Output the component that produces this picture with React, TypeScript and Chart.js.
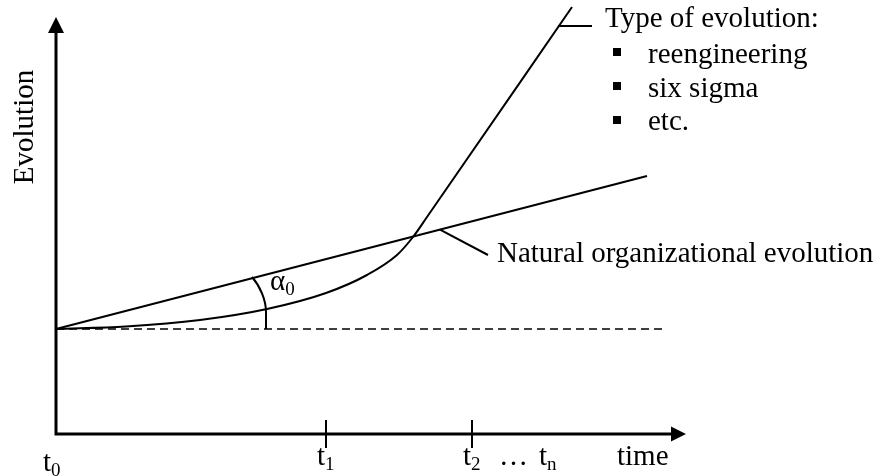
import React, { useEffect, useRef } from 'react';
import { Chart, registerables } from 'chart.js';

Chart.register(...registerables);

// ---- data (time units horizontally, evolution units vertically) ----
const baseLevel = 10.5;
const naturalX = [0, 59.1];
const naturalY = [10.5, 25.8];
const changeX = [0, 7.0, 14.4, 21.1, 27.0, 31.1, 34.1, 35.7, 37.1, 51.6];
const changeY = [10.5, 10.75, 11.4, 12.5, 14.1, 15.9, 17.9, 19.7, 21.7, 42.7];
const dashedX = [0, 60.9];
const dashedY = [baseLevel, baseLevel];
const tickTimes = [27.0, 41.6];
const tickSubs = ['1', '2'];
const typeTitle = 'Type of evolution:';
const typeItems = ['reengineering', 'six sigma', 'etc.'];
const naturalLabel = 'Natural organizational evolution';
const yTitle = 'Evolution';
const xTitle = 'time';
const axisEndX = 63.0;
const axisEndY = 41.7;

const toPts = (xs: number[], ys: number[]) => xs.map((x, i) => ({ x, y: ys[i] }));

const FONT = "'Liberation Serif', 'Times New Roman', serif";

const diagramPlugin = {
  id: 'diagram',
  afterDraw(chart: any) {
    const ctx = chart.ctx as CanvasRenderingContext2D;
    const sx = chart.scales.x;
    const sy = chart.scales.y;
    const X = (v: number) => sx.getPixelForValue(v);
    const Y = (v: number) => sy.getPixelForValue(v);
    ctx.save();
    ctx.strokeStyle = '#000';
    ctx.fillStyle = '#000';
    ctx.lineCap = 'butt';

    // axes
    ctx.lineWidth = 3;
    ctx.beginPath();
    ctx.moveTo(X(0), Y(axisEndY) + 14);
    ctx.lineTo(X(0), Y(0));
    ctx.lineTo(X(axisEndX) - 13, Y(0));
    ctx.stroke();
    // arrow heads
    ctx.beginPath();
    ctx.moveTo(X(0), Y(axisEndY));
    ctx.lineTo(X(0) - 8, Y(axisEndY) + 16);
    ctx.lineTo(X(0) + 8, Y(axisEndY) + 16);
    ctx.closePath();
    ctx.fill();
    ctx.beginPath();
    ctx.moveTo(X(axisEndX), Y(0));
    ctx.lineTo(X(axisEndX) - 15, Y(0) - 7.5);
    ctx.lineTo(X(axisEndX) - 15, Y(0) + 7.5);
    ctx.closePath();
    ctx.fill();

    // ticks
    ctx.lineWidth = 2;
    tickTimes.forEach((t) => {
      ctx.beginPath();
      ctx.moveTo(X(t), Y(1.4));
      ctx.lineTo(X(t), Y(-1.4));
      ctx.stroke();
    });

    // angle arc
    ctx.lineWidth = 2;
    ctx.beginPath();
    ctx.moveTo(X(19.6), Y(15.7));
    ctx.bezierCurveTo(X(20.4), Y(14.8), X(21.0), Y(13.4), X(21.0), Y(12.2));
    ctx.lineTo(X(21.0), Y(baseLevel));
    ctx.stroke();

    // leader lines
    const slope = (naturalY[1] - naturalY[0]) / (naturalX[1] - naturalX[0]);
    ctx.beginPath();
    ctx.moveTo(X(38.4), Y(naturalY[0] + slope * 38.4));
    ctx.lineTo(X(43.2), Y(17.9));
    ctx.stroke();
    ctx.beginPath();
    ctx.moveTo(X(50.2), Y(40.8));
    ctx.lineTo(X(53.6), Y(40.8));
    ctx.stroke();

    const big = `29px ${FONT}`;
    const small = `19px ${FONT}`;
    ctx.textBaseline = 'alphabetic';
    ctx.textAlign = 'left';
    const sub = (base: string, s: string, x: number, y: number) => {
      ctx.font = big;
      ctx.fillText(base, x, y);
      const w = ctx.measureText(base).width;
      ctx.font = small;
      ctx.fillText(s, x + w, y + 5);
    };

    // legend-like text
    ctx.font = big;
    ctx.fillText(typeTitle, X(54.9), Y(40.7));
    const bulletY = [38.2, 34.8, 31.4];
    const textY = [37.1, 33.7, 30.4];
    typeItems.forEach((item, i) => {
      ctx.fillRect(X(55.7), Y(bulletY[i]) - 4, 8, 8);
      ctx.font = big;
      ctx.fillText(item, X(59.2), Y(textY[i]));
    });
    ctx.font = big;
    ctx.fillText(naturalLabel, X(44.1), Y(17.2));

    // alpha
    sub('\u03B1', '0', X(21.4), Y(14.4));

    // time labels
    sub('t', '0', X(-1.3), Y(-3.7));
    tickTimes.forEach((t, i) => sub('t', tickSubs[i], X(t - 0.9), Y(-3.1)));
    ctx.font = big;
    ctx.fillText('\u2026', X(44.3), Y(-3.1));
    sub('t', 'n', X(48.3), Y(-3.1));
    ctx.font = big;
    ctx.fillText(xTitle, X(56.1), Y(-3.1));

    // y title
    ctx.save();
    ctx.translate(X(-2.3), Y(30.7));
    ctx.rotate(-Math.PI / 2);
    ctx.textAlign = 'center';
    ctx.font = big;
    ctx.fillText(yTitle, 0, 0);
    ctx.restore();

    ctx.restore();
  },
};

export default function App() {
  const ref = useRef<HTMLCanvasElement | null>(null);
  useEffect(() => {
    if (!ref.current) return;
    const chart = new Chart(ref.current, {
      type: 'scatter',
      data: {
        datasets: [
          {
            data: toPts(naturalX, naturalY),
            showLine: true,
            borderColor: '#000',
            borderWidth: 2,
            pointRadius: 0,
          },
          {
            data: toPts(changeX, changeY),
            showLine: true,
            borderColor: '#000',
            borderWidth: 2,
            pointRadius: 0,
            cubicInterpolationMode: 'monotone',
          },
          {
            data: toPts(dashedX, dashedY),
            showLine: true,
            borderColor: '#000',
            borderWidth: 1.5,
            borderDash: [8, 5],
            pointRadius: 0,
          },
        ],
      } as any,
      options: {
        animation: false,
        responsive: false,
        maintainAspectRatio: false,
        layout: { padding: 0 },
        plugins: { legend: { display: false }, tooltip: { enabled: false } },
        scales: {
          x: { type: 'linear', min: -5.6, max: 82.4, display: false },
          y: { type: 'linear', min: -4.2, max: 43.4, display: false },
        },
      },
      plugins: [diagramPlugin],
    });
    return () => chart.destroy();
  }, []);
  return (
    <div style={{ position: 'absolute', left: 0, top: 0, width: 880, height: 476, background: '#fff' }}>
      <canvas ref={ref} width={880} height={476} />
    </div>
  );
}
